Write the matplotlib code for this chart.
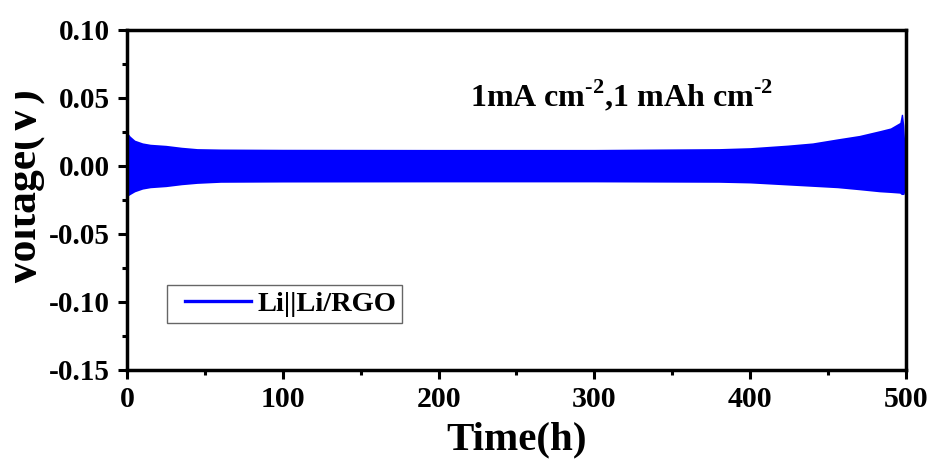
import matplotlib
matplotlib.use("Agg")
import matplotlib.pyplot as plt
from matplotlib.lines import Line2D
from matplotlib.legend_handler import HandlerLine2D
from matplotlib.transforms import Bbox, TransformedBbox
from matplotlib.ticker import MultipleLocator

plt.rcParams['font.family'] = ['Liberation Serif', 'DejaVu Serif']
plt.rcParams['font.weight'] = 'bold'
plt.rcParams['mathtext.fontset'] = 'custom'
plt.rcParams['mathtext.rm'] = 'Liberation Serif:bold'
plt.rcParams['mathtext.bf'] = 'Liberation Serif:bold'

# envelope of the galvanostatic cycling voltage (Li||Li/RGO symmetric cell)
time_h = [0, 2, 5, 10, 15, 25, 35, 45, 60, 100, 200, 300, 380, 400, 424,
          440, 456, 470, 483, 490, 496, 497, 497.8, 498.6, 499.5]
v_upper = [0.025, 0.022, 0.019, 0.017, 0.016, 0.0152, 0.0138, 0.0128, 0.0125,
           0.0123, 0.0122, 0.0122, 0.0128, 0.0135, 0.0154, 0.017, 0.020,
           0.0225, 0.026, 0.028, 0.032, 0.038, 0.038, 0.030, 0.010]
v_lower = [-0.0225, -0.021, -0.019, -0.017, -0.016, -0.0152, -0.0138, -0.0128,
           -0.0120, -0.0118, -0.0117, -0.0117, -0.012, -0.0125, -0.014, -0.015,
           -0.016, -0.0175, -0.019, -0.0195, -0.020, -0.021, -0.021, -0.021,
           -0.018]

x_ticks = [0, 100, 200, 300, 400, 500]
y_ticks = [-0.15, -0.10, -0.05, 0.00, 0.05, 0.10]

fig = plt.figure(figsize=(9.35, 4.73), dpi=100)
fig.patch.set_facecolor('white')
ax = fig.add_axes([0.1358, 0.2178, 0.8332, 0.7188])

ax.fill_between(time_h, v_lower, v_upper, color='#0000ff', lw=0)

ax.set_xlim(0, 500)
ax.set_ylim(-0.15, 0.10)
ax.set_xticks(x_ticks)
ax.set_yticks(y_ticks)
ax.set_yticklabels([f"{v:.2f}" for v in y_ticks])
ax.xaxis.set_minor_locator(MultipleLocator(50))
ax.yaxis.set_minor_locator(MultipleLocator(0.025))

for sp in ax.spines.values():
    sp.set_linewidth(2.5)
ax.tick_params(axis='both', which='major', direction='out', length=6.5, width=2.2)
ax.tick_params(axis='both', which='minor', direction='out', length=3.5, width=2.2)
ax.tick_params(axis='y', which='major', labelsize=21, pad=6)
ax.tick_params(axis='x', which='major', labelsize=21.5, pad=5)
ax.tick_params(top=False, right=False, which='both')

ax.set_xlabel('Time(h)', fontsize=29.5, fontweight='bold', labelpad=6)

# y label sits partly off the left edge of the canvas
ylab = fig.text(45 / 935, 0.603, 'Voltage(V)', rotation=90, ha='right',
                va='center', fontsize=31.5, fontweight='bold')
ylab.set_clip_box(TransformedBbox(Bbox([[15 / 935, 0], [1, 1]]), fig.transFigure))
ylab.set_clip_on(True)

ax.text(220, 0.0436, '1mA cm$^{\\mathbf{\u20102}}$,1 mAh cm$^{\\mathbf{\u20102}}$',
        fontsize=23, fontweight='bold')

handle = Line2D([], [], color='#0000ff', lw=2.4)
leg = ax.legend([handle], ['Li||Li/RGO'], loc='lower left',
                bbox_to_anchor=(0.052, 0.139), prop={'size': 20.5, 'weight': 'bold'},
                handlelength=2.75, handletextpad=0.2, borderpad=0.2,
                borderaxespad=0, frameon=True, fancybox=False,
                handler_map={Line2D: HandlerLine2D(xpad=0.4)})
leg.get_frame().set_edgecolor('#404040')
leg.get_frame().set_linewidth(1.0)

fig.savefig('out.png', dpi=100, facecolor='white')
